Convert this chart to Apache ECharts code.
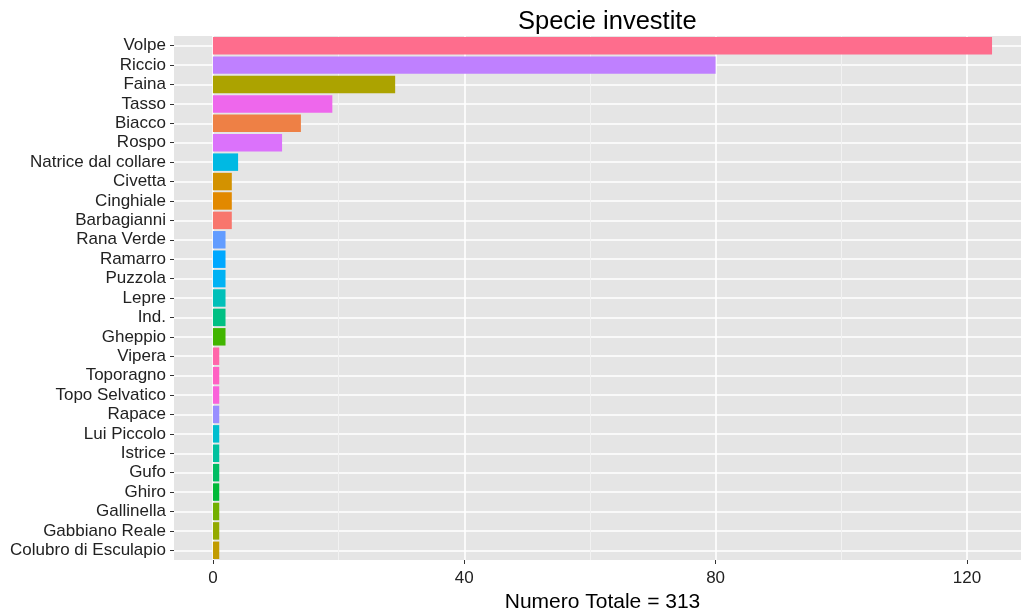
<!DOCTYPE html>
<html>
<head>
<meta charset="utf-8">
<script src="https://cdn.jsdelivr.net/npm/echarts@6/dist/echarts.min.js"></script>
<style>
html,body{margin:0;padding:0;background:#fff;}
#chart{width:1021px;height:612px;}
</style>
</head>
<body>
<div id="chart"></div>
<script>
// Categories, top to bottom
const categories = ["Volpe","Riccio","Faina","Tasso","Biacco","Rospo","Natrice dal collare","Civetta","Cinghiale","Barbagianni","Rana Verde","Ramarro","Puzzola","Lepre","Ind.","Gheppio","Vipera","Toporagno","Topo Selvatico","Rapace","Lui Piccolo","Istrice","Gufo","Ghiro","Gallinella","Gabbiano Reale","Colubro di Esculapio"];
const counts = [124,80,29,19,14,11,4,3,3,3,2,2,2,2,2,2,1,1,1,1,1,1,1,1,1,1,1];
const majorTicks = [0,40,80,120];
const minorTicks = [20,60,100];
const titleText = "Specie investite";
const xTitle = "Numero Totale = 313";

// ggplot2-like hue palette (HCL, c=100, l=65)
function hcl(h, c, l) {
  const hr = h * Math.PI / 180;
  const U = c * Math.cos(hr), V = c * Math.sin(hr);
  const Y = l > 7.999592 ? Math.pow((l + 16) / 116, 3) : l / 903.3;
  const un = 0.1978398, vn = 0.4683363;
  const u = U / (13 * l) + un, v = V / (13 * l) + vn;
  const X = 9 * Y * u / (4 * v);
  const Z = -X / 3 - 5 * Y + 3 * Y / v;
  const gam = t => t > 0.00304 ? 1.055 * Math.pow(t, 1 / 2.4) - 0.055 : 12.92 * t;
  const rgb = [
    3.240479 * X - 1.537150 * Y - 0.498535 * Z,
    -0.969256 * X + 1.875992 * Y + 0.041556 * Z,
    0.055648 * X - 0.204043 * Y + 1.057311 * Z
  ].map(t => Math.round(255 * Math.min(1, Math.max(0, gam(t)))));
  return '#' + rgb.map(x => x.toString(16).padStart(2, '0')).join('');
}
const sorted = categories.slice().sort();
const n = categories.length;
const palette = sorted.map((_, i) => hcl(15 + i * 360 / n, 100, 65));
const colorOf = name => palette[sorted.indexOf(name)];
const rowIndex = categories.map((_, i) => i);

const font = "Liberation Sans, Arial, sans-serif";
const chart = echarts.init(document.getElementById('chart'), null, {renderer: 'canvas'});
chart.setOption({
  backgroundColor: '#ffffff',
  animation: false,
  title: {
    text: titleText,
    left: 513,
    top: 4,
    textStyle: {fontFamily: font, fontSize: 25.5, fontWeight: 'normal', color: '#000'}
  },
  grid: {
    left: 174, width: 857, top: 36, height: 524,
    outerBoundsMode: 'none', containLabel: false,
    show: true, backgroundColor: '#E5E5E5', borderWidth: 0
  },
  xAxis: [{
    type: 'value', min: -6.2, max: 130.2, position: 'bottom',
    axisLine: {show: false, onZero: false},
    axisTick: {show: true, length: 4, customValues: majorTicks, lineStyle: {color: '#333', width: 1}},
    axisLabel: {customValues: majorTicks, margin: 10, fontFamily: font, fontSize: 17, color: '#222'},
    splitLine: {show: true, lineStyle: {color: '#ffffff', width: 1.6}},
    name: xTitle, nameLocation: 'middle', nameGap: 30,
    nameTextStyle: {fontFamily: font, fontSize: 21, color: '#000'}
  }, {
    type: 'value', min: -6.2, max: 130.2, position: 'bottom',
    axisLine: {show: false, onZero: false},
    axisTick: {show: false, customValues: minorTicks},
    axisLabel: {show: false, customValues: minorTicks},
    splitLine: {show: true, lineStyle: {color: '#F2F2F2', width: 1}}
  }],
  yAxis: [{
    type: 'category', data: categories, inverse: true, position: 'left',
    axisLine: {show: false, onZero: false},
    axisTick: {show: true, alignWithLabel: true, length: 4, lineStyle: {color: '#333', width: 1}},
    axisLabel: {margin: 8, fontFamily: font, fontSize: 17, color: '#222', interval: 0},
    splitLine: {show: false}
  }, {
    type: 'value', min: -0.5, max: categories.length - 0.5, inverse: true, position: 'left',
    axisLine: {show: false, onZero: false},
    axisTick: {show: false, customValues: rowIndex},
    axisLabel: {show: false, customValues: rowIndex},
    splitLine: {show: true, lineStyle: {color: '#ffffff', width: 1.6}}
  }],
  series: [{
    type: 'bar',
    xAxisIndex: 0,
    yAxisIndex: 0,
    barCategoryGap: '10%',
    data: categories.map((c, i) => ({value: counts[i], itemStyle: {color: colorOf(c)}})),
    z: 3
  }]
});
</script>
</body>
</html>
